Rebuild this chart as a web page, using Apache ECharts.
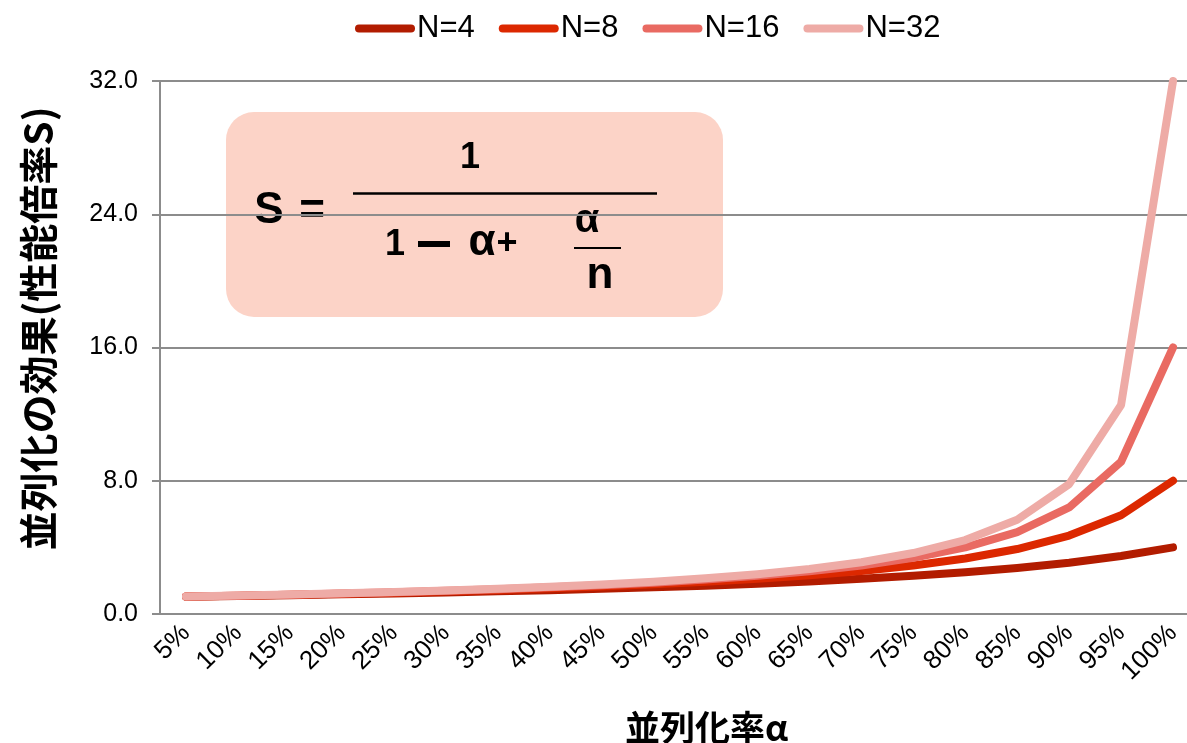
<!DOCTYPE html>
<html lang="ja">
<head>
  <meta charset="UTF-8">
  <title>amdahl</title>
  <style>
    * {
      padding: 0;
      margin: 0;
    }
    #charts {
      width: 1187px;
      height: 743px;
    }
  </style>
</head>
<body>
  <div id="charts"></div>
</body>
<script src="https://cdn.jsdelivr.net/npm/echarts@6/dist/echarts.min.js" type="text/javascript"></script>
<script type="text/javascript">
  // 並列化率
  var rates = ['5%', '10%', '15%', '20%', '25%', '30%', '35%', '40%', '45%', '50%',
    '55%', '60%', '65%', '70%', '75%', '80%', '85%', '90%', '95%', '100%']
  var seriesNames = ['N=4', 'N=8', 'N=16', 'N=32']
  var n4 = [1.04, 1.08, 1.13, 1.18, 1.23, 1.29, 1.36, 1.43, 1.51, 1.60,
    1.70, 1.82, 1.95, 2.11, 2.29, 2.50, 2.76, 3.08, 3.48, 4.00]
  var n8 = [1.05, 1.10, 1.15, 1.21, 1.28, 1.36, 1.44, 1.54, 1.65, 1.78,
    1.93, 2.11, 2.32, 2.58, 2.91, 3.33, 3.90, 4.71, 5.93, 8.00]
  var n16 = [1.05, 1.10, 1.16, 1.23, 1.31, 1.39, 1.49, 1.60, 1.73, 1.88,
    2.07, 2.29, 2.56, 2.91, 3.37, 4.00, 4.92, 6.40, 9.14, 16.00]
  var n32 = [1.05, 1.11, 1.17, 1.24, 1.32, 1.41, 1.51, 1.63, 1.77, 1.94,
    2.14, 2.39, 2.70, 3.11, 3.66, 4.44, 5.66, 7.80, 12.55, 32.00]
  var yTicks = [0, 8, 16, 24, 32]

  var colors = ['#B21C00', '#DC2800', '#E96A62', '#EEABA6']
  var values = [n4, n8, n16, n32]
  var capsule = 'path://M4,0 H56 A4,4 0 0 1 56,8 H4 A4,4 0 0 1 4,0 Z'
  var myChart = echarts.init(document.getElementById('charts'))

  var series = seriesNames.map(function (name, i) {
    return {
      name: name,
      type: 'line',
      symbol: 'none',
      data: values[i],
      lineStyle: { color: colors[i], width: 8, cap: 'round', join: 'round' },
      itemStyle: { color: colors[i] },
      z: 2 + i
    }
  })

  var txt = function (x, y, s, size) {
    return { type: 'text', x: x, y: y, style: { text: s, font: 'bold ' + size + 'px Arial', fill: '#000', align: 'center', verticalAlign: 'middle' } }
  }

  var option = {
    animation: false,
    backgroundColor: '#fff',
    color: colors,
    legend: {
      left: 355,
      top: 13,
      padding: 0,
      itemWidth: 60,
      itemHeight: 8,
      itemGap: 24,
      icon: capsule,
      textStyle: { fontFamily: 'Arial, Liberation Sans', fontSize: 31, color: '#000', padding: [0, 0, 0, -3] },
      data: seriesNames
    },
    grid: {
      left: 160,
      right: -12,
      top: 81,
      bottom: 129,
      outerBoundsMode: 'none'
    },
    xAxis: {
      type: 'category',
      data: rates,
      boundaryGap: true,
      name: '並列化率α',
      nameLocation: 'middle',
      nameGap: 96,
      nameTextStyle: {
        fontFamily: 'Noto Sans CJK JP',
        fontWeight: 'bold',
        fontSize: 35,
        color: '#000',
        padding: [0, 0, 0, 54]
      },
      axisLine: { lineStyle: { color: '#8C8C8C', width: 2 } },
      axisTick: { length: 8, lineStyle: { color: '#8C8C8C', width: 2 } },
      axisLabel: {
        interval: 0,
        rotate: 45,
        margin: 15,
        fontFamily: 'Arial, Liberation Sans',
        fontSize: 26,
        color: '#000'
      }
    },
    yAxis: {
      type: 'value',
      min: yTicks[0],
      max: yTicks[yTicks.length - 1],
      interval: yTicks[1] - yTicks[0],
      name: '並列化の効果(性能倍率S)',
      nameLocation: 'middle',
      nameRotate: 90,
      nameGap: 102,
      nameTextStyle: {
        fontFamily: 'Noto Sans CJK JP',
        fontWeight: 'bold',
        fontSize: 39,
        color: '#000',
        padding: [0, 0, 0, 38]
      },
      axisLine: { show: true, lineStyle: { color: '#8C8C8C', width: 2 } },
      axisTick: { show: true, length: 8, lineStyle: { color: '#8C8C8C', width: 2 } },
      splitLine: { lineStyle: { color: '#8C8C8C', width: 2 } },
      axisLabel: {
        margin: 22,
        fontFamily: 'Arial, Liberation Sans',
        fontSize: 25,
        color: '#000',
        formatter: function (v) { return v.toFixed(1) }
      }
    },
    graphic: [{
      type: 'group',
      z: 100,
      children: [
        { type: 'rect', shape: { x: 226, y: 112, width: 497, height: 205, r: 28 }, style: { fill: '#FCD3C7' } },
        txt(269, 211, 'S', 44),
        txt(312, 212, '=', 44),
        txt(470, 158, '1', 36),
        { type: 'line', shape: { x1: 353, y1: 193.5, x2: 657, y2: 193.5 }, style: { stroke: '#000', lineWidth: 2.5 } },
        txt(395, 245, '1', 36),
        { type: 'rect', shape: { x: 418, y: 241, width: 32, height: 6 }, style: { fill: '#000' } },
        txt(482, 243, 'α', 44),
        txt(507, 244, '+', 36),
        txt(587, 221, 'α', 40),
        { type: 'line', shape: { x1: 574, y1: 248, x2: 621, y2: 248 }, style: { stroke: '#000', lineWidth: 2 } },
        txt(600, 276, 'n', 44)
      ]
    }],
    series: series
  }
  myChart.setOption(option)
</script>
</html>
